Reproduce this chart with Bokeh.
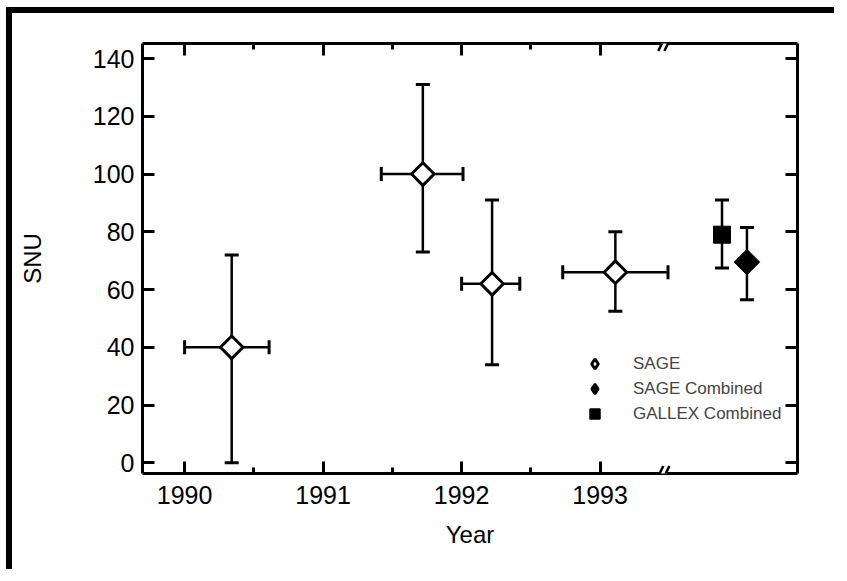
import numpy as np
from bokeh.plotting import figure
from bokeh.models import (ColumnDataSource, Whisker, TeeHead, Range1d, LinearAxis,
                          FixedTicker, Legend, LegendItem, Arrow)
from bokeh.embed import file_html
from bokeh.resources import INLINE

# ---- data ----
sage_year = [1990.34, 1991.72, 1992.22, 1993.11]
sage_snu = [40, 100, 62, 66]
sage_snu_hi = [72, 131, 91, 80]
sage_snu_lo = [0, 73, 34, 52.5]
sage_year_lo = [1990.0, 1991.42, 1992.0, 1992.73]
sage_year_hi = [1990.61, 1992.01, 1992.42, 1993.49]

gallex_pos = [1993.88]
gallex_snu = [79]
gallex_snu_hi = [91]
gallex_snu_lo = [67.5]

sage_comb_pos = [1994.06]
sage_comb_snu = [69.5]
sage_comb_snu_hi = [81.5]
sage_comb_snu_lo = [56.5]

year_ticks = [1990, 1991, 1992, 1993]
year_minor_ticks = [1990.5, 1991.5, 1992.5]
snu_ticks = [0, 20, 40, 60, 80, 100, 120, 140]
axis_break = 1993.46
x_lim = (1989.696, 1994.425)
y_lim = (-3.7, 145.2)

FONT = "Liberation Sans"

p = figure(width=828, height=562, output_backend="svg", toolbar_location=None,
           x_range=Range1d(*x_lim), y_range=Range1d(*y_lim),
           min_border_left=130, min_border_right=43, min_border_top=30,
           min_border_bottom=102)
# outer frame of the figure (left and top edges)
p.styles = {"border-left": "6px solid black", "border-top": "6px solid black",
            "margin-left": "6px", "margin-top": "7px"}
p.outline_line_color = None
p.xgrid.visible = False
p.ygrid.visible = False
p.background_fill_color = "white"
p.border_fill_color = "white"

# axes
xb = p.xaxis[0]
yl = p.yaxis[0]
xt = LinearAxis()
yr = LinearAxis()
p.add_layout(xt, "above")
p.add_layout(yr, "right")
for ax in (xb, xt):
    ax.ticker = FixedTicker(ticks=year_ticks, minor_ticks=year_minor_ticks)
for ax in (yl, yr):
    ax.ticker = FixedTicker(ticks=snu_ticks, minor_ticks=[])
for ax in (xb, xt, yl, yr):
    ax.axis_line_width = 3
    ax.axis_line_color = "black"
    ax.major_tick_in = 12
    ax.major_tick_out = 0
    ax.minor_tick_in = 6
    ax.minor_tick_out = 0
    ax.major_tick_line_width = 3
    ax.minor_tick_line_width = 3
    ax.major_label_text_font = FONT
    ax.major_label_text_font_size = "25px"
    ax.major_label_text_color = "black"
    ax.axis_label_text_font = FONT
    ax.axis_label_text_font_style = "normal"
    ax.axis_label_text_font_size = "24px"
    ax.axis_label_text_color = "black"
for ax in (xt, yr):
    ax.major_label_text_color = None
    ax.major_label_standoff = 0
xb.axis_label = "Year"
yl.axis_label = "SNU"
xb.major_label_standoff = 12
yl.major_label_standoff = 8
xb.axis_label_standoff = 14
yl.axis_label_standoff = 44

# error bars
src = ColumnDataSource(dict(x=sage_year, y=sage_snu, hi=sage_snu_hi, lo=sage_snu_lo,
                            xlo=sage_year_lo, xhi=sage_year_hi))
src_g = ColumnDataSource(dict(x=gallex_pos, y=gallex_snu, hi=gallex_snu_hi, lo=gallex_snu_lo))
src_c = ColumnDataSource(dict(x=sage_comb_pos, y=sage_comb_snu, hi=sage_comb_snu_hi,
                              lo=sage_comb_snu_lo))

def tee():
    return TeeHead(size=14, line_width=3, line_color="black")

for s in (src, src_g, src_c):
    p.add_layout(Whisker(source=s, base="x", upper="hi", lower="lo", dimension="height",
                         line_width=2.5, line_color="black",
                         upper_head=tee(), lower_head=tee()))
p.add_layout(Whisker(source=src, base="y", upper="xhi", lower="xlo", dimension="width",
                     line_width=2.5, line_color="black",
                     upper_head=tee(), lower_head=tee()))

# markers
r_sage = p.scatter("x", "y", source=src, marker="square", size=16, angle=np.pi / 4,
                   fill_color="white", line_color="black", line_width=3)
r_comb = p.scatter("x", "y", source=src_c, marker="square", size=18, angle=np.pi / 4,
                   fill_color="black", line_color="black", line_width=1)
r_gal = p.scatter("x", "y", source=src_g, marker="square", size=17,
                  fill_color="black", line_color="black", line_width=1)

# legend proxies (legend symbols are not rotated by bokeh, so use diamond markers)
lg_sage = p.scatter("x", "y", source=src, marker="diamond", fill_color="white",
                    line_color="black", line_width=3, visible=False)
lg_comb = p.scatter("x", "y", source=src_c, marker="diamond", fill_color="black",
                    line_color="black", line_width=2.5, visible=False)
lg_gal = p.scatter("x", "y", source=src_g, marker="square", fill_color="black",
                   line_color="black", line_width=1.5, visible=False)

# axis break marks "//" on top and bottom edges
gap = 0.022      # half distance between the two slashes (years)
sl_dx = 0.018    # slash half-width (years)
for yy, inward in ((y_lim[1], -1), (y_lim[0], 1)):
    p.add_layout(Arrow(x_start=axis_break - gap, y_start=yy, x_end=axis_break + gap, y_end=yy,
                       start=None, end=None, line_color="white", line_width=7, level="overlay"))
    for c in (axis_break - gap, axis_break + gap):
        p.add_layout(Arrow(x_start=c - sl_dx, y_start=yy - 1.8 + inward * 0.8,
                           x_end=c + sl_dx, y_end=yy + 1.8 + inward * 0.8,
                           start=None, end=None, line_color="black", line_width=2.5,
                           level="overlay"))

legend = Legend(items=[LegendItem(label="SAGE", renderers=[lg_sage]),
                       LegendItem(label="SAGE Combined", renderers=[lg_comb]),
                       LegendItem(label="GALLEX Combined", renderers=[lg_gal])],
                location=(440, 47), padding=0, margin=0, spacing=0,
                glyph_width=25, glyph_height=25, label_height=25, label_standoff=26,
                label_text_font=FONT, label_text_font_size="17px",
                border_line_color=None, background_fill_alpha=0)
p.add_layout(legend)

open("out.html", "w").write(file_html(p, INLINE))
